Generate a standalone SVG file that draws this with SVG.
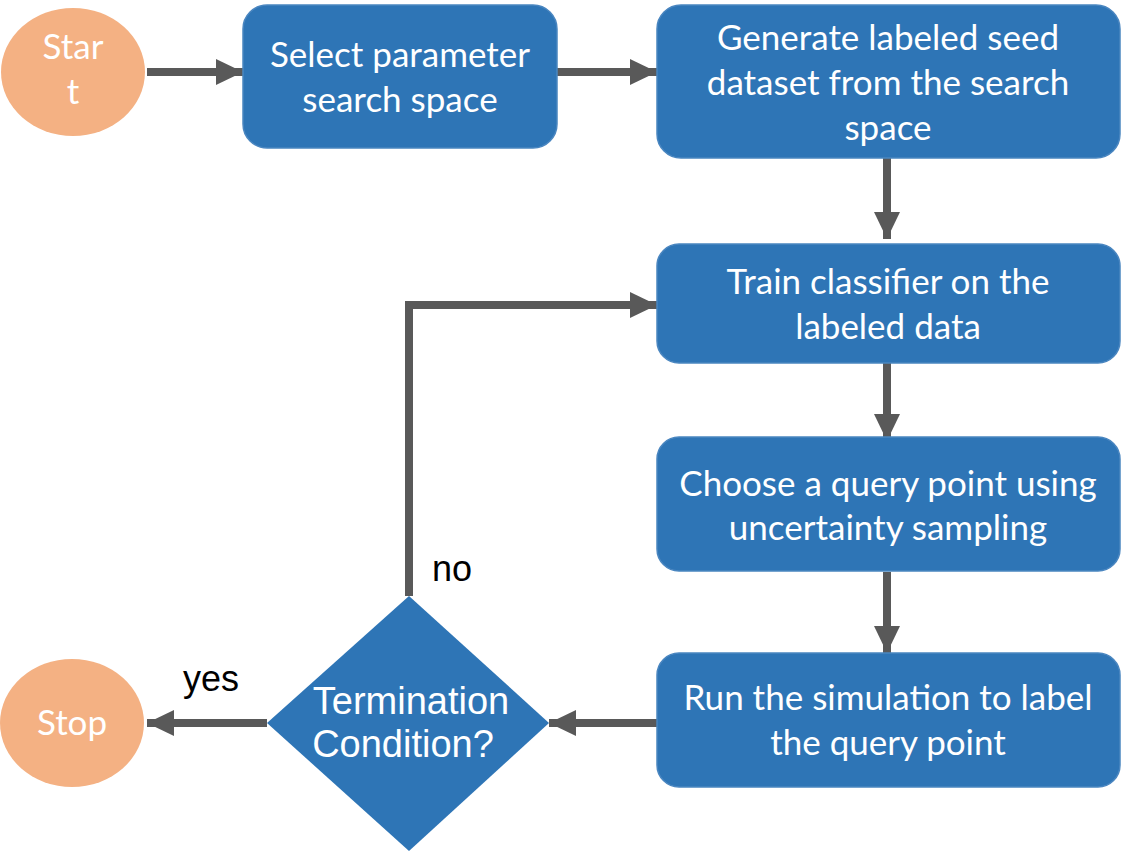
<svg xmlns="http://www.w3.org/2000/svg" width="1127" height="852" viewBox="0 0 1127 852">
<defs>
<marker id="ah" markerUnits="userSpaceOnUse" markerWidth="28" markerHeight="28" refX="27" refY="13" orient="auto">
<path d="M0,0 L27,13 L0,26 Z" fill="#595959"/>
</marker>
<style>
.box{fill:#2E75B6;stroke:#4A86C0;stroke-width:1.5}
.term{fill:#F4B183}
.t{font-family:Lato,"Open Sans","Noto Sans",sans-serif;font-size:35px;fill:#ffffff;text-anchor:middle}
.ta{font-family:"Liberation Sans",Arial,sans-serif;font-size:38px;fill:#ffffff;text-anchor:middle}
.lbl{font-family:"Liberation Sans",Arial,sans-serif;font-size:36px;fill:#000000}
.c{fill:none;stroke:#595959;stroke-width:8}
</style>
</defs>
<rect width="1127" height="852" fill="#ffffff"/>
<g id="connectors">
<path class="c" d="M147,72 L243,72" marker-end="url(#ah)"/>
<path class="c" d="M557,72 L657,72" marker-end="url(#ah)"/>
<path class="c" d="M887,158 L887,239" marker-end="url(#ah)"/>
<path class="c" d="M887,363 L887,441" marker-end="url(#ah)"/>
<path class="c" d="M887,572 L887,653" marker-end="url(#ah)"/>
<path class="c" d="M657,723 L549,723" marker-end="url(#ah)"/>
<path class="c" d="M267,723 L147,723" marker-end="url(#ah)"/>
<path class="c" d="M409,596 L409,305 L657,305" marker-end="url(#ah)"/>
<text class="lbl" x="432" y="581">no</text>
<text class="lbl" x="183" y="691">yes</text>
</g>
<g id="start">
<ellipse class="term" cx="73" cy="72" rx="72" ry="64"/>
<text class="t" x="73" y="59">Star</text>
<text class="t" x="73" y="104">t</text>
</g>
<g id="select">
<rect class="box" x="243" y="5" width="314" height="143" rx="24"/>
<text class="t" x="400" y="67">Select parameter</text>
<text class="t" x="400" y="112">search space</text>
</g>
<g id="generate">
<rect class="box" x="657" y="5" width="463" height="153" rx="24"/>
<text class="t" x="888" y="50">Generate labeled seed</text>
<text class="t" x="888" y="95">dataset from the search</text>
<text class="t" x="888" y="140">space</text>
</g>
<g id="train">
<rect class="box" x="657" y="244" width="463" height="119" rx="22"/>
<text class="t" x="888" y="294">Train classifier on the</text>
<text class="t" x="888" y="339">labeled data</text>
</g>
<g id="choose">
<rect class="box" x="657" y="437" width="463" height="134" rx="22"/>
<text class="t" x="888" y="496">Choose a query point using</text>
<text class="t" x="888" y="540">uncertainty sampling</text>
</g>
<g id="run">
<rect class="box" x="657" y="653" width="463" height="134" rx="22"/>
<text class="t" x="888" y="710">Run the simulation to label</text>
<text class="t" x="888" y="755">the query point</text>
</g>
<g id="decision">
<polygon fill="#2E75B6" points="409,596 549,723 409,851 267,723"/>
<text class="ta" x="411" y="714">Termination</text>
<text class="ta" x="403" y="757">Condition?</text>
</g>
<g id="stop">
<ellipse class="term" cx="72" cy="723" rx="72" ry="64"/>
<text class="t" x="72" y="735">Stop</text>
</g>
</svg>
